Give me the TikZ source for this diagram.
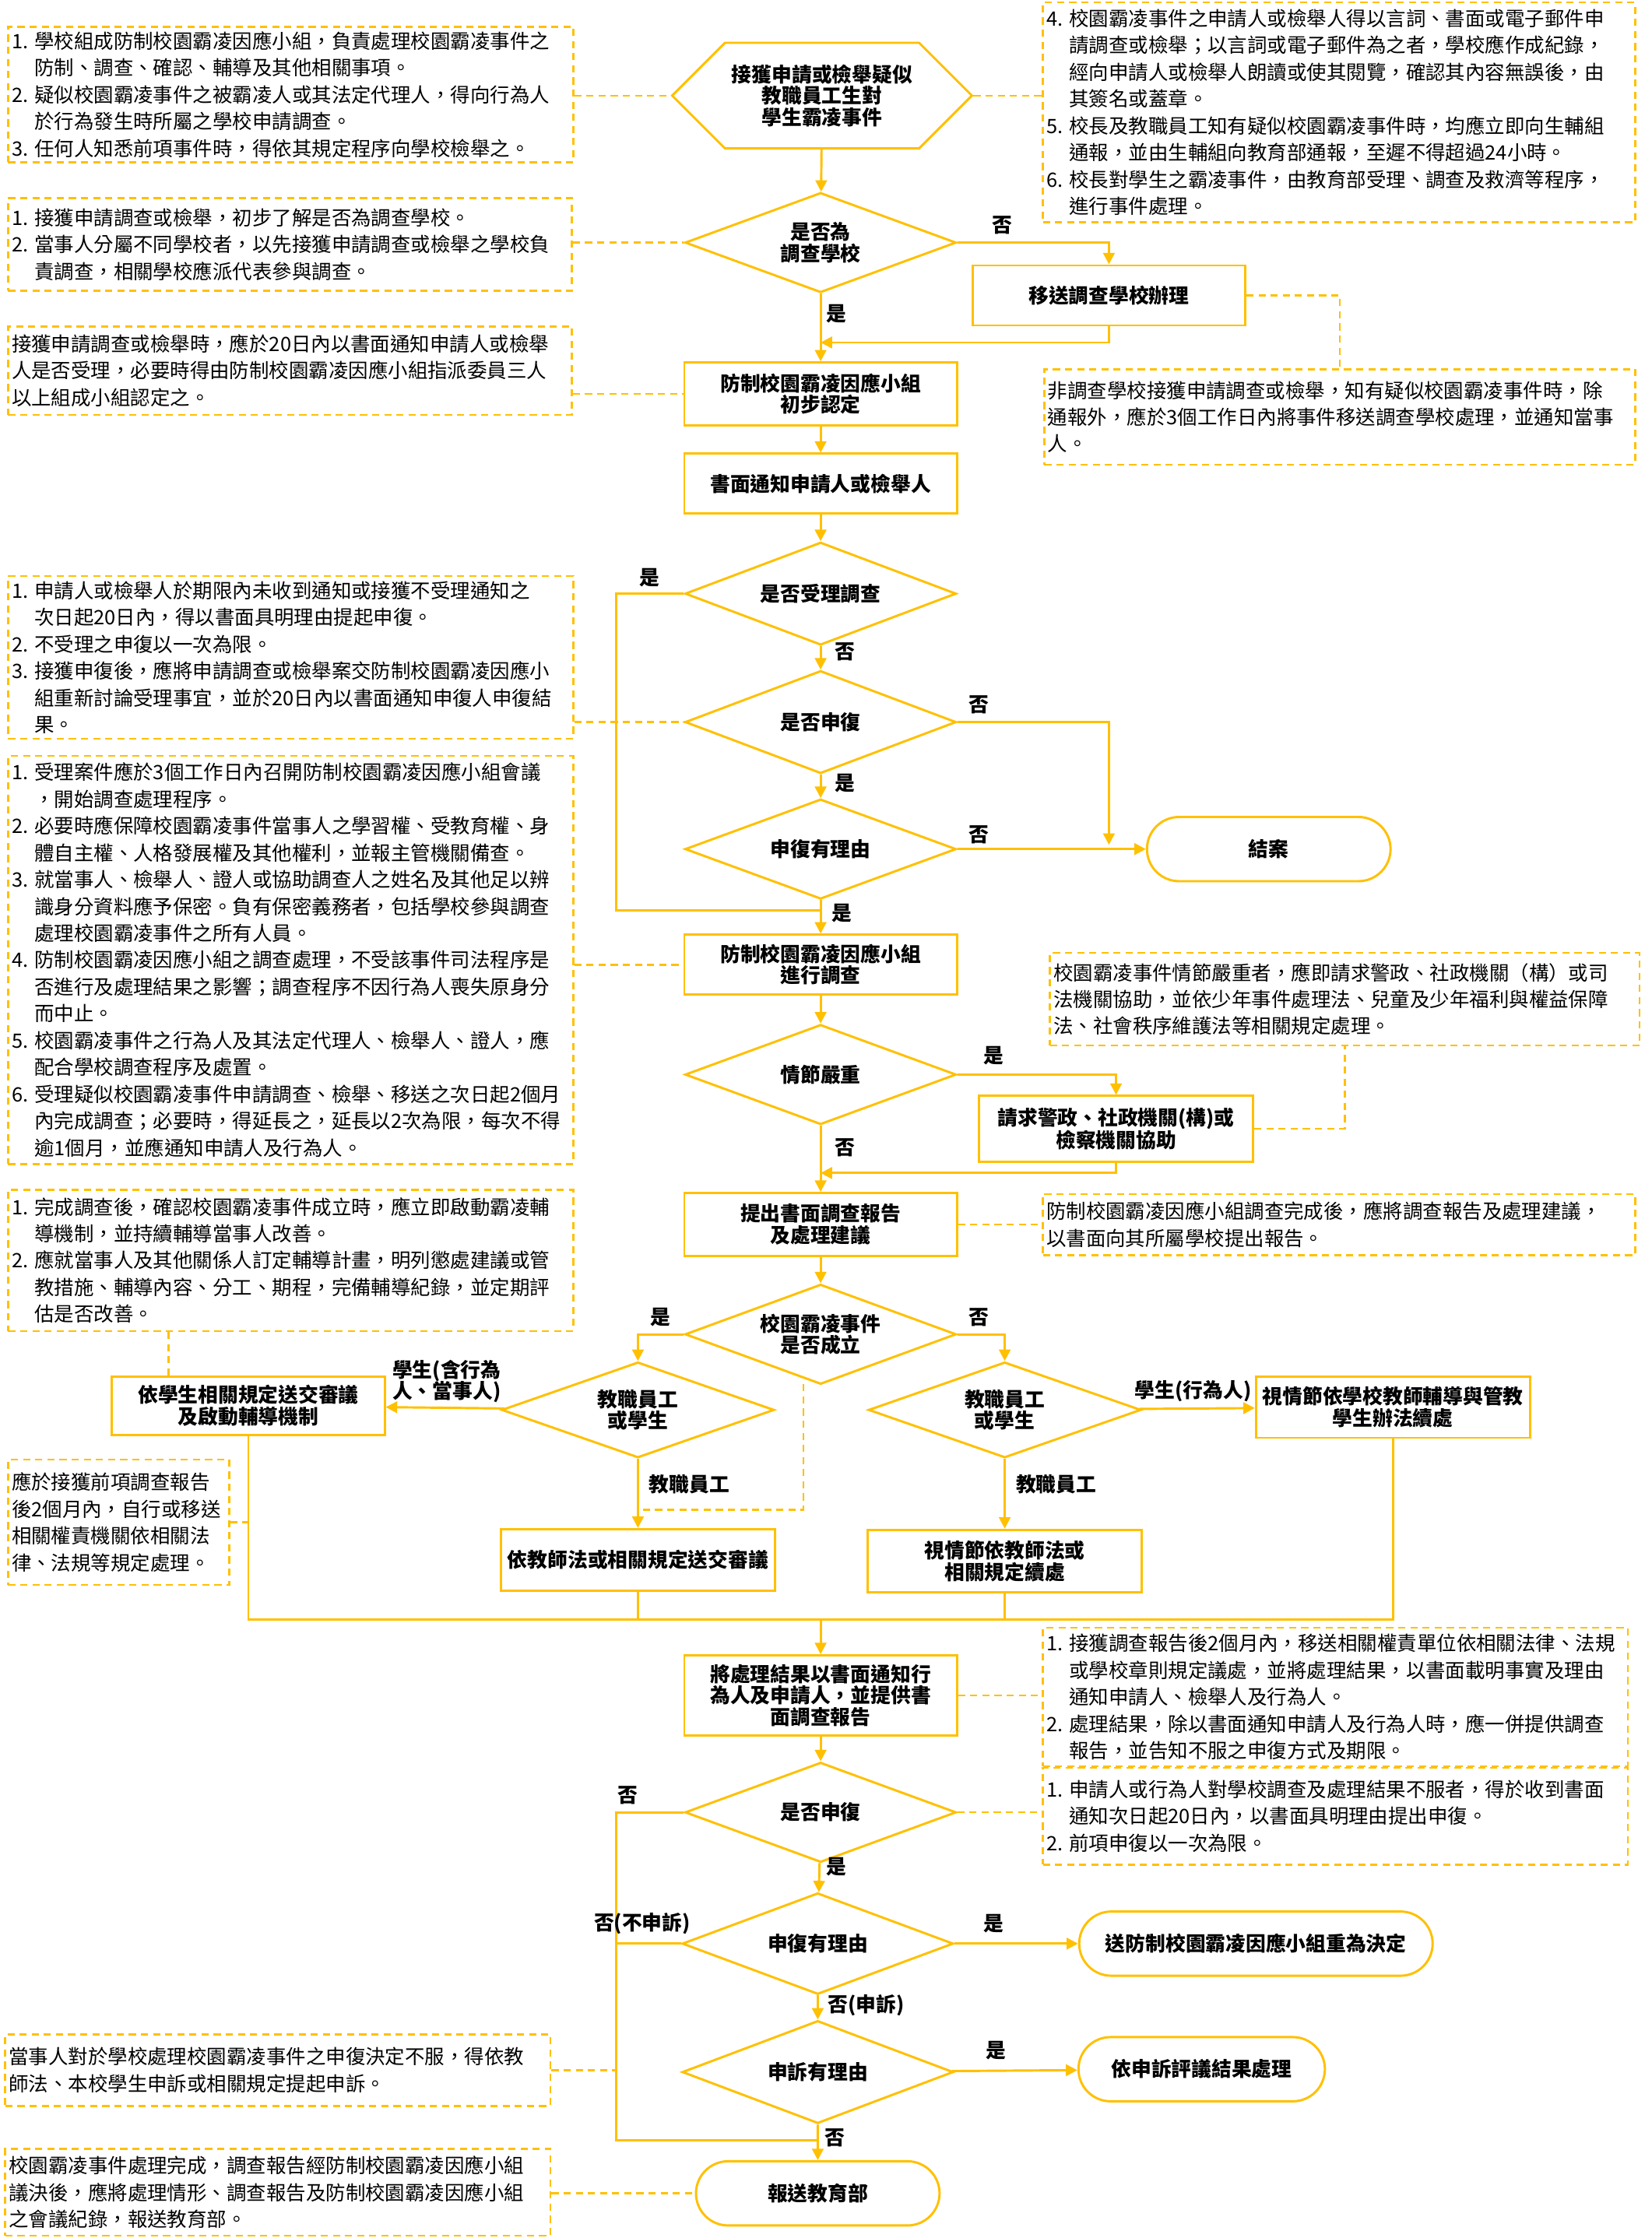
\documentclass[tikz,border=0pt]{standalone}
\usepackage{fontspec}
\setmainfont{Noto Sans CJK TC}
\usetikzlibrary{shapes.geometric,shapes.symbols,shapes.misc,arrows.meta}
\definecolor{bullyor}{HTML}{FFC000}
\newcommand\fsnote{\fontsize{39.5pt}{53.5pt}\selectfont}
\newcommand\fsflow{\fontsize{40pt}{42.5pt}\selectfont}
\newcommand\itm[1]{\makebox[1.15em][l]{#1.}}
\newcommand\cont{\hspace*{1.15em}}
\tikzset{
  flowbox/.style={rectangle, draw=bullyor, line width=1.6mm, fill=white, minimum width=191mm, minimum height=43mm, align=center, inner sep=1mm, font=\fsflow\bfseries},
  startbox/.style={signal, signal to=east and west, draw=bullyor, line width=1.6mm, fill=white, minimum width=210mm, minimum height=74mm, align=center, inner sep=1mm, font=\fsflow\bfseries},
  decide/.style={diamond, draw=bullyor, line width=1.6mm, fill=white, minimum width=190mm, minimum height=70mm, aspect=2.7, inner sep=0mm, align=center, font=\fsflow\bfseries},
  endbox/.style={rounded rectangle, draw=bullyor, line width=1.6mm, fill=white, minimum height=45mm, align=center, font=\fsflow\bfseries},
  note/.style 2 args={rectangle, draw=bullyor, line width=1.4mm, dash pattern=on 5mm off 3.5mm, anchor=north west, align=left, inner sep=2.5mm, text width=#1, minimum height=#2, font=\fsnote},
  flowline/.style={draw=bullyor, line width=1.6mm, -{Triangle[length=8mm,width=8mm]}},
  joinline/.style={draw=bullyor, line width=1.6mm},
  noteline/.style={draw=bullyor, line width=1.4mm, dash pattern=on 5mm off 3.5mm},
  ans/.style={font=\fsflow\bfseries, inner sep=0mm},
}
\begin{document}
\begin{tikzpicture}[x=1mm, y=-1mm]
\fill [white] (0,0) rectangle (1157,1568.3);

% notes on the left
\node (noteA) [note={391mm}{95mm}] at (5,18) {\itm{1}學校組成防制校園霸凌因應小組，負責處理校園霸凌事件之\\\cont 防制、調查、確認、輔導及其他相關事項。\\\itm{2}疑似校園霸凌事件之被霸凌人或其法定代理人，得向行為人\\\cont 於行為發生時所屬之學校申請調查。\\\itm{3}任何人知悉前項事件時，得依其規定程序向學校檢舉之。};
\node (noteC) [note={390mm}{65mm}] at (5,138) {\itm{1}接獲申請調查或檢舉，初步了解是否為調查學校。\\\itm{2}當事人分屬不同學校者，以先接獲申請調查或檢舉之學校負\\\cont 責調查，相關學校應派代表參與調查。};
\node (noteD) [note={390mm}{62mm}] at (5,228) {接獲申請調查或檢舉時，應於20日內以書面通知申請人或檢舉\\人是否受理，必要時得由防制校園霸凌因應小組指派委員三人\\以上組成小組認定之。};
\node (noteF) [note={391mm}{114mm}] at (5,403) {\itm{1}申請人或檢舉人於期限內未收到通知或接獲不受理通知之\\\cont 次日起20日內，得以書面具明理由提起申復。\\\itm{2}不受理之申復以一次為限。\\\itm{3}接獲申復後，應將申請調查或檢舉案交防制校園霸凌因應小\\\cont 組重新討論受理事宜，並於20日內以書面通知申復人申復結\\\cont 果。};
\node (noteG) [note={391mm}{286mm}] at (5,529) {\itm{1}受理案件應於3個工作日內召開防制校園霸凌因應小組會議\\\cont ，開始調查處理程序。\\\itm{2}必要時應保障校園霸凌事件當事人之學習權、受教育權、身\\\cont 體自主權、人格發展權及其他權利，並報主管機關備查。\\\itm{3}就當事人、檢舉人、證人或協助調查人之姓名及其他足以辨\\\cont 識身分資料應予保密。負有保密義務者，包括學校參與調查\\\cont 處理校園霸凌事件之所有人員。\\\itm{4}防制校園霸凌因應小組之調查處理，不受該事件司法程序是\\\cont 否進行及處理結果之影響；調查程序不因行為人喪失原身分\\\cont 而中止。\\\itm{5}校園霸凌事件之行為人及其法定代理人、檢舉人、證人，應\\\cont 配合學校調查程序及處置。\\\itm{6}受理疑似校園霸凌事件申請調查、檢舉、移送之次日起2個月\\\cont 內完成調查；必要時，得延長之，延長以2次為限，每次不得\\\cont 逾1個月，並應通知申請人及行為人。};
\node (noteJ) [note={391mm}{99mm}] at (5,833) {\itm{1}完成調查後，確認校園霸凌事件成立時，應立即啟動霸凌輔\\\cont 導機制，並持續輔導當事人改善。\\\itm{2}應就當事人及其他關係人訂定輔導計畫，明列懲處建議或管\\\cont 教措施、輔導內容、分工、期程，完備輔導紀錄，並定期評\\\cont 估是否改善。};
\node (noteK) [note={150mm}{88mm}] at (5,1022) {應於接獲前項調查報告\\後2個月內，自行或移送\\相關權責機關依相關法\\律、法規等規定處理。};
\node (noteN) [note={377mm}{50mm}] at (3,1425) {當事人對於學校處理校園霸凌事件之申復決定不服，得依教\\師法、本校學生申訴或相關規定提起申訴。};
\node (noteO) [note={377mm}{61mm}] at (3,1505) {校園霸凌事件處理完成，調查報告經防制校園霸凌因應小組\\議決後，應將處理情形、調查報告及防制校園霸凌因應小組\\之會議紀錄，報送教育部。};

% notes on the right
\node (noteB) [note={410mm}{154mm}] at (730,1) {\itm{4}校園霸凌事件之申請人或檢舉人得以言詞、書面或電子郵件申\\\cont 請調查或檢舉；以言詞或電子郵件為之者，學校應作成紀錄，\\\cont 經向申請人或檢舉人朗讀或使其閱覽，確認其內容無誤後，由\\\cont 其簽名或蓋章。\\\itm{5}校長及教職員工知有疑似校園霸凌事件時，均應立即向生輔組\\\cont 通報，並由生輔組向教育部通報，至遲不得超過24小時。\\\itm{6}校長對學生之霸凌事件，由教育部受理、調查及救濟等程序，\\\cont 進行事件處理。};
\node (noteE) [note={409mm}{67mm}] at (731,258) {非調查學校接獲申請調查或檢舉，知有疑似校園霸凌事件時，除\\通報外，應於3個工作日內將事件移送調查學校處理，並通知當事\\人。};
\node (noteH) [note={408mm}{65mm}] at (735,667) {校園霸凌事件情節嚴重者，應即請求警政、社政機關（構）或司\\法機關協助，並依少年事件處理法、兒童及少年福利與權益保障\\法、社會秩序維護法等相關規定處理。};
\node (noteI) [note={410mm}{43mm}] at (730,836) {防制校園霸凌因應小組調查完成後，應將調查報告及處理建議，\\以書面向其所屬學校提出報告。};
\node (noteL) [note={405mm}{97mm}] at (730,1140) {\itm{1}接獲調查報告後2個月內，移送相關權責單位依相關法律、法規\\\cont 或學校章則規定議處，並將處理結果，以書面載明事實及理由\\\cont 通知申請人、檢舉人及行為人。\\\itm{2}處理結果，除以書面通知申請人及行為人時，應一併提供調查\\\cont 報告，並告知不服之申復方式及期限。};
\node (noteM) [note={405mm}{68mm}] at (730,1238) {\itm{1}申請人或行為人對學校調查及處理結果不服者，得於收到書面\\\cont 通知次日起20日內，以書面具明理由提出申復。\\\itm{2}前項申復以一次為限。};

% main flow
\node (start) [startbox] at (576,67) {接獲申請或檢舉疑似\\教職員工生對\\學生霸凌事件};
\node (isschool) [decide] at (575,170) {是否為\\調查學校};
\node (transfer) [flowbox, minimum height=42mm] at (777,207) {移送調查學校辦理};
\node (prelim) [flowbox, minimum height=44mm] at (575,276) {防制校園霸凌因應小組\\初步認定};
\node (notify) [flowbox, minimum height=42mm] at (575,339) {書面通知申請人或檢舉人};
\node (accept) [decide, minimum height=72mm] at (575,416) {是否受理調查};
\node (appeal) [decide, minimum height=72mm] at (575,506) {是否申復};
\node (reason) [decide] at (575,595) {申復有理由};
\node (close) [endbox, minimum width=173mm] at (889,595) {結案};
\node (investigate) [flowbox, minimum height=42mm] at (575,676) {防制校園霸凌因應小組\\進行調查};
\node (serious) [decide] at (575,753) {情節嚴重};
\node (police) [flowbox, minimum width=192mm, minimum height=46mm] at (782,791) {請求警政、社政機關(構)或\\檢察機關協助};
\node (report) [flowbox, minimum height=44mm] at (575,858) {提出書面調查報告\\及處理建議};
\node (established) [decide] at (575,935) {校園霸凌事件\\是否成立};
\node (roleL) [decide, minimum width=191mm, minimum height=67mm] at (447,988) {教職員工\\或學生};
\node (roleR) [decide, minimum width=191mm, minimum height=67mm] at (704,988) {教職員工\\或學生};
\node (stureview) [flowbox, minimum height=41mm] at (174,985) {依學生相關規定送交審議\\及啟動輔導機制};
\node (stucounsel) [flowbox, minimum width=192mm] at (976,986) {視情節依學校教師輔導與管教\\學生辦法續處};
\node (tchreview) [flowbox, minimum width=192mm] at (447,1093) {依教師法或相關規定送交審議};
\node (tchcont) [flowbox, minimum width=192mm, minimum height=44mm] at (704,1094) {視情節依教師法或\\相關規定續處};
\node (result) [flowbox, minimum height=56mm] at (575,1188) {將處理結果以書面通知行\\為人及申請人，並提供書\\面調查報告};
\node (appeal2) [decide] at (575,1270) {是否申復};
\node (reason2) [decide, minimum height=71mm] at (573,1362) {申復有理由};
\node (redecide) [endbox, minimum width=250mm] at (880,1362) {送防制校園霸凌因應小組重為決定};
\node (grievance) [decide, minimum height=72mm] at (573,1452) {申訴有理由};
\node (grieveres) [endbox, minimum width=175mm] at (842,1450) {依申訴評議結果處理};
\node (moe) [endbox, minimum width=173mm] at (573,1537) {報送教育部};

% join points
\coordinate (backA) at (575,240);
\coordinate (leftA) at (432,638);
\coordinate (mainA) at (575,638);
\coordinate (closeA) at (777,592);
\coordinate (backB) at (575,822);
\coordinate (busL) at (174,1135);
\coordinate (busR) at (976,1135);
\coordinate (busM) at (575,1135);
\coordinate (leftB) at (432,1500);
\coordinate (mainB) at (573,1500);
\coordinate (tieA) at (563,970);
\coordinate (tieB) at (449,1058);

% connectors
\draw [flowline] (start) -- (isschool);
\draw [flowline] (isschool.east) -| (transfer.north);
\draw [flowline] (isschool) -- (prelim);
\draw [flowline] (transfer.south) |- (backA);
\draw [flowline] (prelim) -- (notify);
\draw [flowline] (notify) -- (accept);
\draw [flowline] (accept) -- (appeal);
\draw [joinline] (accept.west) -| (leftA) -- (mainA);
\draw [flowline] (appeal) -- (reason);
\draw [flowline] (appeal.east) -| (closeA);
\draw [flowline] (reason) -- (close);
\draw [flowline] (reason) -- (investigate);
\draw [flowline] (investigate) -- (serious);
\draw [flowline] (serious.east) -| (police.north);
\draw [flowline] (serious) -- (report);
\draw [flowline] (police.south) |- (backB);
\draw [flowline] (report) -- (established);
\draw [flowline] (established.west) -| (roleL.north);
\draw [flowline] (established.east) -| (roleR.north);
\draw [flowline] (roleL) -- (stureview);
\draw [flowline] (roleL) -- (tchreview);
\draw [flowline] (roleR) -- (stucounsel);
\draw [flowline] (roleR) -- (tchcont);
\draw [joinline] (stureview.south) -- (busL) -- (busR) -- (stucounsel.south);
\draw [joinline] (tchreview.south) -- (tchreview.south |- busL);
\draw [joinline] (tchcont.south) -- (tchcont.south |- busL);
\draw [flowline] (busM) -- (result);
\draw [flowline] (result) -- (appeal2);
\draw [flowline] (appeal2) -- (reason2);
\draw [joinline] (appeal2.west) -| (leftB) -- (mainB);
\draw [joinline] (reason2.west) -- (reason2.west -| leftB);
\draw [flowline] (reason2) -- (redecide);
\draw [flowline] (reason2) -- (grievance);
\draw [flowline] (grievance) -- (grieveres);
\draw [flowline] (grievance) -- (moe);

% answers
\node (ansA) [ans] at (702,158) {否};
\node (ansB) [ans] at (586,220) {是};
\node (ansC) [ans] at (455,405) {是};
\node (ansD) [ans] at (592,457) {否};
\node (ansE) [ans] at (686,494) {否};
\node (ansF) [ans] at (592,549) {是};
\node (ansG) [ans] at (686,585) {否};
\node (ansH) [ans] at (590,640) {是};
\node (ansI) [ans] at (696,740) {是};
\node (ansJ) [ans] at (592,804) {否};
\node (ansK) [ans] at (463,923) {是};
\node (ansL) [ans] at (686,923) {否};
\node (ansM) [ans, align=left] at (313,968) {學生(含行為\\人、當事人)};
\node (ansN) [ans] at (483,1040) {教職員工};
\node (ansO) [ans] at (836,975) {學生(行為人)};
\node (ansP) [ans] at (740,1040) {教職員工};
\node (ansQ) [ans] at (440,1258) {否};
\node (ansR) [ans] at (586,1308) {是};
\node (ansS) [ans] at (450,1348) {否(不申訴)};
\node (ansT) [ans] at (696,1348) {是};
\node (ansU) [ans] at (607,1405) {否(申訴)};
\node (ansV) [ans] at (698,1437) {是};
\node (ansW) [ans] at (585,1498) {否};

% dashed ties to the notes
\draw [noteline] (noteA.east |- start.west) -- (start.west);
\draw [noteline] (start.east) -- (start.east -| noteB.west);
\draw [noteline] (noteC.east |- isschool.west) -- (isschool.west);
\draw [noteline] (noteD.east |- prelim.west) -- (prelim.west);
\draw [noteline] (transfer.east) -| (noteE.north);
\draw [noteline] (noteF.east |- appeal.west) -- (appeal.west);
\draw [noteline] (noteG.east |- investigate.west) -- (investigate.west);
\draw [noteline] (police.east) -| (noteH.south);
\draw [noteline] (report.east) -- (report.east -| noteI.west);
\draw [noteline] ([xshift=113mm]noteJ.south west) -- ([xshift=113mm]noteJ.south west |- stureview.north);
\draw [noteline] (noteK.east) -- (noteK.east -| stureview.south);
\draw [noteline] (tieA) |- (tieB);
\draw [noteline] (result.east) -- (result.east -| noteL.west);
\draw [noteline] (appeal2.east) -- (appeal2.east -| noteM.west);
\draw [noteline] (noteN.east) -- (noteN.east -| leftB);
\draw [noteline] (noteO.east |- moe.west) -- (moe.west);
\end{tikzpicture}
\end{document}
